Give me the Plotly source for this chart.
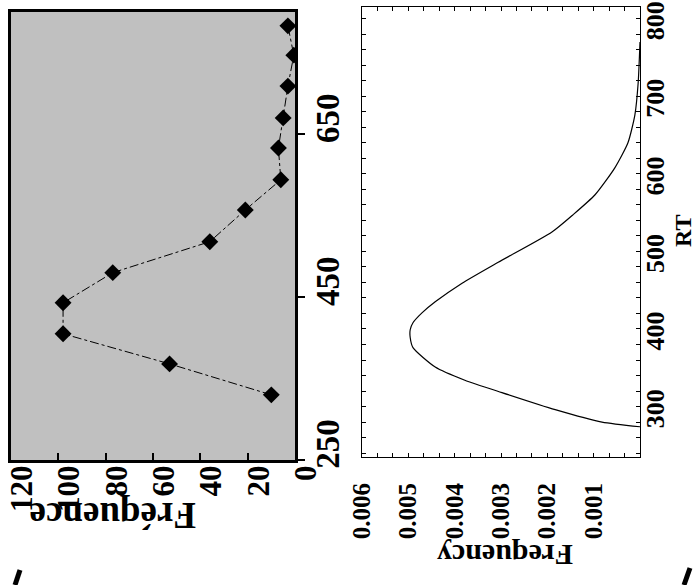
import plotly.graph_objects as go

# ---- Data: top panel (histogram points) ----
rt_bins = [330, 368, 405, 443, 480, 518, 557, 594, 633, 670, 709, 747, 783]
freq_counts = [10, 53, 98, 98, 77, 36, 21, 6, 7, 5, 3, 0.5, 3]

# ---- Data: bottom panel (density curve) ----
rt_curve = [274, 280, 296, 318, 334, 351, 376, 389, 399, 408, 421, 435, 459,
            486, 525, 547, 573, 608, 640, 676, 717, 770]
dens_curve = [0.0, 0.00082, 0.00183, 0.00298, 0.00378, 0.00442, 0.00490,
              0.00496, 0.00496, 0.00490, 0.00470, 0.00442, 0.00384, 0.00306,
              0.00190, 0.00145, 0.00097, 0.00054, 0.00026, 0.00011, 0.00004, 0.0]

top_freq_ticks = [0, 20, 40, 60, 80, 100, 120]
top_rt_ticks = [250, 450, 650]
bot_dens_ticks = [0.001, 0.002, 0.003, 0.004, 0.005, 0.006]
bot_dens_labels = ["0.001", "0.002", "0.003", "0.004", "0.005", "0.006"]
bot_rt_ticks = [300, 400, 500, 600, 700, 800]

W, H = 696, 585
SERIF = "Liberation Serif"

fig = go.Figure()

fig.add_trace(go.Scatter(
    x=freq_counts, y=rt_bins, mode="lines+markers",
    line=dict(color="black", width=1, dash="dashdot"),
    marker=dict(symbol="diamond", size=13, color="black"),
    xaxis="x", yaxis="y", showlegend=False, hoverinfo="skip"))

fig.add_trace(go.Scatter(
    x=dens_curve, y=rt_curve, mode="lines",
    line=dict(color="black", width=1.2, shape="spline", smoothing=0.6),
    xaxis="x2", yaxis="y2", showlegend=False, hoverinfo="skip"))

xfont = dict(family=SERIF, size=31, color="black", weight="bold")
yfont = dict(family=SERIF, size=33, color="black", weight="bold")
mid = dict(family=SERIF, size=26, color="black", weight="bold")
small = dict(family=SERIF, size=25, color="black", weight="bold")

fig.update_layout(
    width=W, height=H, autosize=False,
    margin=dict(l=0, r=0, t=0, b=0),
    paper_bgcolor="white", plot_bgcolor="white",
    xaxis=dict(
        domain=[11 / W, 295 / W], range=[120, 0], anchor="y",
        tickvals=top_freq_ticks, tickangle=-90, tickfont=xfont,
        ticks="inside", ticklen=7, tickwidth=1.5, tickcolor="black",
        showline=True, linewidth=3, linecolor="black", mirror=True,
        showgrid=False, zeroline=False, automargin=False,
        ticklabeloverflow="allow",
        ticklabelshift=-11, ticklabelstandoff=-10),
    yaxis=dict(
        domain=[125 / H, 573 / H], range=[250, 800], anchor="x", side="right",
        tickvals=top_rt_ticks, tickangle=-90, tickfont=yfont,
        ticks="outside", ticklen=7, tickwidth=1.5, tickcolor="black",
        showline=True, linewidth=3, linecolor="black", mirror=True,
        showgrid=False, zeroline=False, automargin=False,
        ticklabeloverflow="allow",
        ticklabelshift=-11, ticklabelstandoff=-6),
    xaxis2=dict(
        domain=[362 / W, 640 / W], range=[0.006, 0], anchor="y2",
        tickvals=bot_dens_ticks, ticktext=bot_dens_labels,
        tickangle=-90, tickfont=small,
        ticks="inside", ticklen=4, tickwidth=1, tickcolor="black",
        minor=dict(dtick=0.001 / 3, ticks="inside", ticklen=4, tickcolor="black"),
        showline=True, linewidth=1.2, linecolor="black", mirror="allticks",
        showgrid=False, zeroline=False, automargin=False,
        ticklabeloverflow="allow", ticklabelstandoff=15),
    yaxis2=dict(
        domain=[128 / H, 578 / H], range=[235, 815], anchor="x2", side="right",
        tickvals=bot_rt_ticks, tickangle=-90, tickfont=mid,
        ticks="inside", ticklen=4, tickwidth=1, tickcolor="black",
        minor=dict(dtick=20, ticks="inside", ticklen=4, tickcolor="black"),
        showline=True, linewidth=1.2, linecolor="black", mirror="allticks",
        showgrid=False, zeroline=False, automargin=False,
        ticklabeloverflow="allow", ticklabelstandoff=-8, ticklabelshift=6),
    shapes=[
        dict(type="rect", xref="x domain", yref="y domain", x0=0, x1=1, y0=0, y1=1,
             fillcolor="#c0c0c0", line=dict(width=0), layer="below"),
        dict(type="line", xref="paper", yref="paper",
             x0=20 / W, y0=1 - 570 / H, x1=15 / W, y1=1 - 585 / H,
             line=dict(color="black", width=5)),
        dict(type="line", xref="paper", yref="paper",
             x0=690 / W, y0=1 - 568 / H, x1=684 / W, y1=1 - 585 / H,
             line=dict(color="black", width=5)),
    ],
    annotations=[
        dict(text="Fréquence", xref="paper", yref="paper", x=113 / W, y=1 - 516 / H,
             xanchor="center", yanchor="middle",
             showarrow=False, textangle=180,
             font=dict(family=SERIF, size=37, color="black", weight="bold")),
        dict(text="Frequency", xref="paper", yref="paper", x=505 / W, y=1 - 556 / H,
             xanchor="center", yanchor="middle",
             showarrow=False, textangle=180,
             font=dict(family=SERIF, size=30, color="black", weight="bold")),
        dict(text="RT", xref="paper", yref="paper", x=683 / W, y=1 - 231 / H,
             xanchor="center", yanchor="middle",
             showarrow=False, textangle=-90,
             font=dict(family=SERIF, size=24, color="black", weight="bold")),
    ],
)

fig.write_html("out.html")
